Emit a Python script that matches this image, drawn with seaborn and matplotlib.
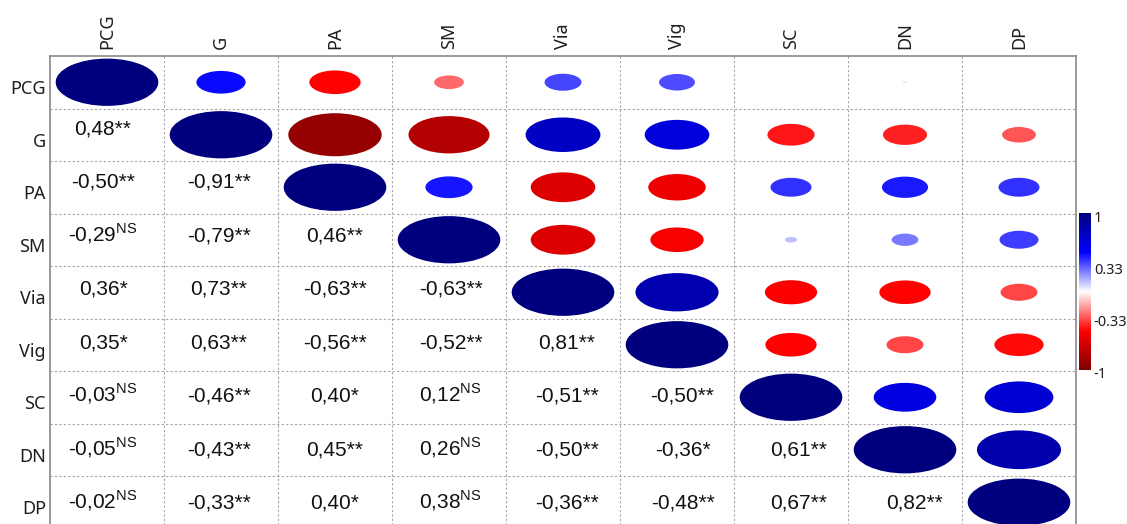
import numpy as np
import pandas as pd
import matplotlib
matplotlib.use("Agg")
import matplotlib.pyplot as plt
import matplotlib.transforms as mtransforms
from matplotlib.colors import LinearSegmentedColormap, Normalize
from matplotlib.collections import EllipseCollection
import seaborn as sns

variables = ["PCG", "G", "PA", "SM", "Via", "Vig", "SC", "DN", "DP"]

# Pearson correlations, lower triangle (each row against the preceding variables)
r_G = [0.48]
r_PA = [-0.50, -0.91]
r_SM = [-0.29, -0.79, 0.46]
r_Via = [0.36, 0.73, -0.63, -0.63]
r_Vig = [0.35, 0.63, -0.56, -0.52, 0.81]
r_SC = [-0.03, -0.46, 0.40, 0.12, -0.51, -0.50]
r_DN = [-0.05, -0.43, 0.45, 0.26, -0.50, -0.36, 0.61]
r_DP = [-0.02, -0.33, 0.40, 0.38, -0.36, -0.48, 0.67, 0.82]

# significance marks for the same pairs
s_G = ["**"]
s_PA = ["**", "**"]
s_SM = ["NS", "**", "**"]
s_Via = ["*", "**", "**", "**"]
s_Vig = ["*", "**", "**", "**", "**"]
s_SC = ["NS", "**", "*", "NS", "**", "**"]
s_DN = ["NS", "**", "**", "NS", "**", "*", "**"]
s_DP = ["NS", "**", "*", "NS", "**", "**", "**", "**"]

cbar_ticks = [1, 0.33, -0.33, -1]
cbar_labels = ["1", "0.33", "-0.33", "-1"]

lower_r = [[], r_G, r_PA, r_SM, r_Via, r_Vig, r_SC, r_DN, r_DP]
lower_s = [[], s_G, s_PA, s_SM, s_Via, s_Vig, s_SC, s_DN, s_DP]

n = len(variables)
corr = np.eye(n)
for i, row in enumerate(lower_r):
    for j, v in enumerate(row):
        corr[i, j] = corr[j, i] = v
df = pd.DataFrame(corr, index=variables, columns=variables)

sns.set_theme(style="white")
plt.rcParams["font.family"] = ["Noto Sans", "DejaVu Sans"]
plt.rcParams["mathtext.fontset"] = "custom"
plt.rcParams["mathtext.rm"] = "Liberation Sans"

cmap = LinearSegmentedColormap.from_list(
    "rwb", ["#7f0000", "#ff0000", "#ffffff", "#0000ff", "#00007f"])
norm = Normalize(vmin=-1, vmax=1)

W, H = 1127, 524
fig = plt.figure(figsize=(W / 100, H / 100), dpi=100)
ax = fig.add_axes([50 / W, 1 - 528.5 / H, 1026 / W, 472.5 / H])
cax = fig.add_axes([1079 / W, 1 - 370 / H, 12 / W, 157 / H])

# empty heatmap provides the cell grid, labels and colour bar
sns.heatmap(df, mask=np.ones_like(corr, dtype=bool), cmap=cmap, vmin=-1, vmax=1,
            ax=ax, cbar_ax=cax, xticklabels=True, yticklabels=True)

tick_color = "#1e1e1e"
ax.xaxis.tick_top()
ax.set_xticks(np.arange(n) + 0.5)
ax.set_xticklabels(variables, rotation=90, fontsize=13, color=tick_color)
ax.set_yticks(np.arange(n) + 0.5)
ax.set_yticklabels(variables, rotation=0, fontsize=13, color=tick_color)
ax.tick_params(axis="x", length=0, pad=5, top=True, bottom=False,
               labeltop=True, labelbottom=False)
ax.tick_params(axis="y", length=0, pad=3)
shift = mtransforms.ScaledTranslation(0, -7 / 100, fig.dpi_scale_trans)
for lab in ax.get_yticklabels():
    lab.set_transform(lab.get_transform() + shift)

# dashed cell borders and solid frame
for k in range(1, n):
    ax.axhline(k, color="#a5a5a5", lw=0.8, ls=(0, (2, 2)), zorder=1)
    ax.axvline(k, color="#a5a5a5", lw=0.8, ls=(0, (2, 2)), zorder=1)
for sp in ax.spines.values():
    sp.set_visible(True)
    sp.set_color("#8a8a8a")
    sp.set_linewidth(1.2)

# ellipses on the diagonal and upper triangle, scaled by |r|
rows_u, cols_u = np.triu_indices(n)
vals_u = corr[rows_u, cols_u]
ell = EllipseCollection(widths=0.9 * np.abs(vals_u), heights=0.9 * np.abs(vals_u),
                        angles=np.zeros_like(vals_u), units="xy",
                        offsets=np.column_stack([cols_u + 0.5, rows_u + 0.5]),
                        offset_transform=ax.transData, cmap=cmap, norm=norm,
                        linewidths=0, zorder=3)
ell.set_array(vals_u)
ax.add_collection(ell)

# coefficients with significance in the lower triangle
for i in range(1, n):
    for j in range(i):
        txt = f"{corr[i, j]:.2f}".replace(".", ",")
        mark = lower_s[i][j]
        txt += r"$^{\mathrm{NS}}$" if mark == "NS" else mark
        ax.annotate(txt, xy=(j + 0.5, i + 0.5),
                    xytext=(-4 + 1.9 * j, -7.5 + (9 - i)),
                    textcoords="offset pixels", ha="center", va="baseline",
                    fontsize=15, family="Liberation Sans", color="#111111")

cb = ax.collections[0].colorbar
cb.set_ticks(cbar_ticks, labels=cbar_labels)
cb.outline.set_visible(False)
cax.tick_params(length=0, pad=2, labelsize=10.5, colors=tick_color)
cshift = mtransforms.ScaledTranslation(0, -3 / 100, fig.dpi_scale_trans)
for lab in cax.get_yticklabels():
    lab.set_transform(lab.get_transform() + cshift)

fig.savefig("out.png", dpi=100)
